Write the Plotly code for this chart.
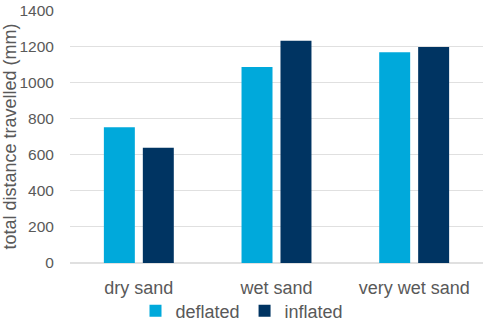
import plotly.graph_objects as go

categories = ["dry sand", "wet sand", "very wet sand"]
deflated = [754, 1087, 1169]
inflated = [639, 1233, 1199]
y_ticks = [0, 200, 400, 600, 800, 1000, 1200, 1400]

fig = go.Figure()
fig.add_trace(go.Bar(name="deflated", x=categories, y=deflated,
                     marker=dict(color="#00A9DB", line=dict(width=0))))
fig.add_trace(go.Bar(name="inflated", x=categories, y=inflated,
                     marker=dict(color="#003462", line=dict(width=0))))

fig.update_layout(
    width=484, height=321,
    margin=dict(l=70, r=1, t=10, b=58, autoexpand=False),
    paper_bgcolor="white", plot_bgcolor="white",
    font=dict(family="Liberation Sans, Arial, sans-serif", size=18, color="#595959"),
    barmode="group", bargap=0.434, bargroupgap=0.205,
    legend=dict(orientation="h", xref="container", x=0.5, xanchor="center",
                y=-0.19, yanchor="middle", bgcolor="rgba(0,0,0,0)",
                font=dict(size=18, color="#595959"), itemwidth=30, traceorder="normal"),
    xaxis=dict(showgrid=False, showline=False, ticks="outside", ticklen=8,
               tickcolor="rgba(0,0,0,0)", tickfont=dict(size=18)),
    yaxis=dict(range=[0, 1404], tickmode="array", tickvals=y_ticks,
               showgrid=True, gridcolor="#E0E0E0",
               gridwidth=1, zeroline=True, zerolinecolor="#E0E0E0", showline=False,
               ticks="outside", ticklen=12, tickcolor="rgba(0,0,0,0)",
               tickfont=dict(size=15.5),
               title=dict(text="total distance travelled (mm)", font=dict(size=18), standoff=4)),
)

fig.write_html("out.html", config={"displayModeBar": False},
               post_script="document.body.style.margin='0';document.body.style.overflow='hidden';")
